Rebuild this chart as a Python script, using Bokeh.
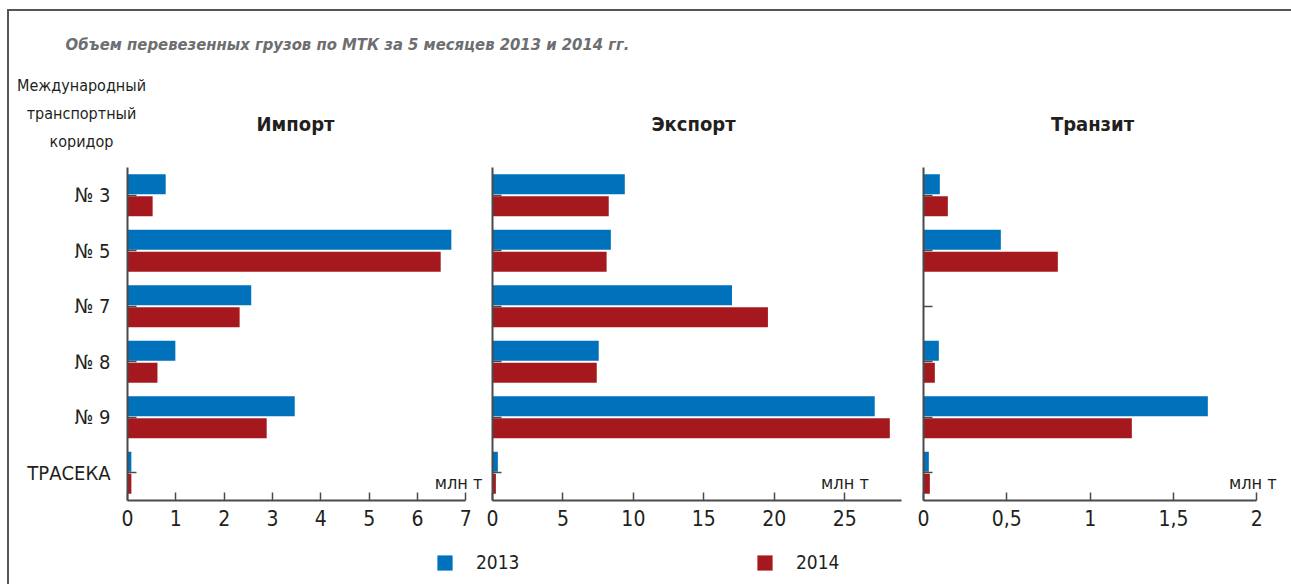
from bokeh.plotting import figure
from bokeh.models import Range1d, FactorRange, FixedTicker, Label, Legend, LegendItem, ColumnDataSource
from bokeh.layouts import row, column
from bokeh.transform import dodge
from bokeh.embed import file_html
from bokeh.resources import INLINE

# ---------------- data ----------------
corridors = ["№ 3", "№ 5", "№ 7", "№ 8", "№ 9", "ТРАСЕКА"]
years = ["2013", "2014"]
import_2013 = [0.79, 6.70, 2.56, 0.99, 3.46, 0.08]
import_2014 = [0.52, 6.48, 2.32, 0.62, 2.88, 0.08]
export_2013 = [9.39, 8.40, 17.0, 7.54, 27.13, 0.38]
export_2014 = [8.25, 8.10, 19.55, 7.40, 28.20, 0.24]
transit_2013 = [0.098, 0.464, 0.0, 0.092, 1.706, 0.032]
transit_2014 = [0.146, 0.806, 0.0, 0.068, 1.25, 0.038]
panel_titles = ["Импорт", "Экспорт", "Транзит"]
import_ticks = [0, 1, 2, 3, 4, 5, 6, 7]
export_ticks = [0, 5, 10, 15, 20, 25]
transit_ticks = [0, 0.5, 1, 1.5, 2]
transit_tick_labels = ["0", "0,5", "1", "1,5", "2"]
chart_title = "Объем перевезенных грузов по МТК за 5 месяцев 2013 и 2014 гг."
left_caption = ["Международный", "транспортный", "коридор"]
unit_label = "млн т"

BLUE = "#0071bb"
RED = "#a5191e"
TXT = "#231f20"
AXIS = "#4a4a4a"
FONT = "'DejaVu Sans Condensed', 'DejaVu Sans', sans-serif"


def add_label(p, x, y, text, size, style="normal", color=TXT, align="center"):
    p.add_layout(Label(x=x, y=y, text=text, text_font=FONT, text_font_size=f"{size}px",
                       text_font_style=style, text_color=color, text_align=align,
                       text_baseline="middle"))


def make_panel(v13, v14, xend, bounds, ticks, frame_w, mb_left, mb_right, show_labels):
    src = ColumnDataSource(dict(corridor=corridors, v2013=v13, v2014=v14))
    p = figure(y_range=FactorRange(factors=corridors[::-1]), x_range=Range1d(0, xend),
               frame_width=frame_w, frame_height=333,
               min_border_left=mb_left, min_border_right=mb_right,
               min_border_top=0, min_border_bottom=40,
               output_backend="svg", toolbar_location=None)
    p.hbar(y=dodge("corridor", 0.198, range=p.y_range), left=0, right="v2013",
           height=0.36, fill_color=BLUE, line_color=None, source=src)
    p.hbar(y=dodge("corridor", -0.198, range=p.y_range), left=0, right="v2014",
           height=0.36, fill_color=RED, line_color=None, source=src)
    p.grid.visible = False
    p.outline_line_color = None
    p.background_fill_color = "white"
    p.border_fill_color = "white"

    xa = p.xaxis[0]
    xa.ticker = FixedTicker(ticks=ticks, minor_ticks=[])
    if bounds is not None:
        xa.bounds = bounds
    xa.major_tick_in = 8
    xa.major_tick_out = 0
    xa.major_tick_line_color = AXIS
    xa.major_tick_line_width = 1.5
    xa.axis_line_color = AXIS
    xa.axis_line_width = 2
    xa.major_label_text_font = FONT
    xa.major_label_text_font_size = "21px"
    xa.major_label_text_color = TXT
    xa.major_label_standoff = 9

    ya = p.yaxis[0]
    ya.major_tick_in = 9
    ya.major_tick_out = 0
    ya.major_tick_line_color = AXIS
    ya.major_tick_line_width = 1.5
    ya.axis_line_color = AXIS
    ya.axis_line_width = 2
    ya.major_label_text_font = FONT
    if show_labels:
        ya.major_label_text_font_size = "20px"
        ya.major_label_text_color = TXT
        ya.major_label_standoff = 17
    else:
        ya.major_label_text_font_size = "1px"
        ya.major_label_text_color = None
        ya.major_label_standoff = 0
    return p


f1 = make_panel(import_2013, import_2014, 7.407, (0, 7), import_ticks, 358, 118, 0, True)
f2 = make_panel(export_2013, export_2014, 29.03, None, export_ticks, 409, 7, 11, False)
f3 = make_panel(transit_2013, transit_2014, 2.136, (0, 2), transit_ticks, 356, 11, 5, False)
f3.xaxis[0].major_label_overrides = {t: s for t, s in zip(transit_ticks, transit_tick_labels)}

# unit labels
add_label(f1, 7.345, 0.333, unit_label, 18, align="right")
add_label(f2, 26.71, 0.333, unit_label, 18, align="right")
add_label(f3, 2.119, 0.333, unit_label, 18, align="right")

HW = 476 + 427 + 372


def blank(h):
    p = figure(x_range=Range1d(0, HW), y_range=Range1d(0, h), frame_width=HW,
               frame_height=h, min_border=0, x_axis_location=None, y_axis_location=None,
               output_backend="svg", toolbar_location=None)
    p.grid.visible = False
    p.outline_line_color = None
    return p


# header with title, caption and panel titles
header = blank(156)
add_label(header, 338, 123, chart_title, 16.5, "bold italic", color="#6d6e71")
for txt, yy in zip(left_caption, [82, 54, 26]):
    add_label(header, 72, yy, txt, 16)
for txt, xx in zip(panel_titles, [286, 684, 1083]):
    add_label(header, xx, 44, txt, 20, "bold")

# footer with the year legend (hidden key renderers carry the series colours)
footer = blank(44)
key13 = footer.hbar(y=[0], left=[0], right=[0], height=0, fill_color=BLUE, line_color=None,
                    visible=False)
key14 = footer.hbar(y=[0], left=[0], right=[0], height=0, fill_color=RED, line_color=None,
                    visible=False)
for rend, yr, xloc in [(key13, years[0], 426), (key14, years[1], 746)]:
    lg = Legend(items=[LegendItem(label=yr, renderers=[rend])], location=(xloc, 11),
                padding=0, margin=0, spacing=0, border_line_color=None,
                background_fill_alpha=0, glyph_width=19, glyph_height=19,
                label_height=19, label_standoff=22, label_text_font=FONT,
                label_text_font_size="19px", label_text_color=TXT,
                inactive_fill_alpha=0, click_policy="none")
    footer.add_layout(lg)

layout = column(header, row(f1, f2, f3), footer,
                styles={"margin-left": "7px", "margin-top": "9px", "padding-right": "7px",
                        "border-top": "2px solid #555555", "border-left": "2px solid #555555"})

open("out.html", "w").write(file_html(layout, INLINE))
